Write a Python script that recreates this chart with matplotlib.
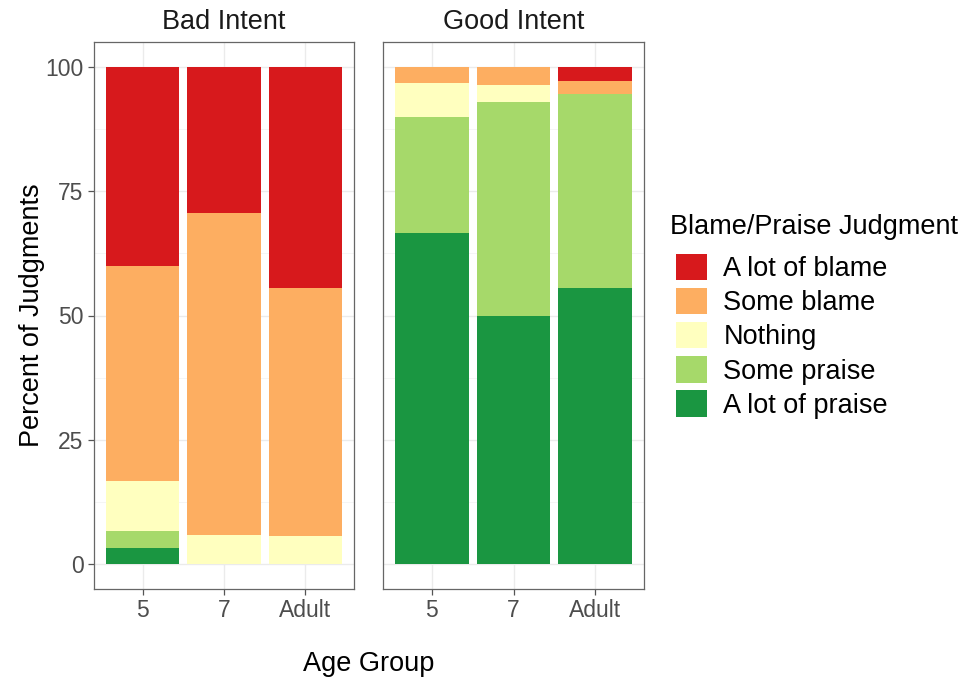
import numpy as np
import matplotlib.pyplot as plt
from matplotlib.patches import Patch

plt.rcParams['font.family'] = ['Liberation Sans', 'DejaVu Sans']

ages = ['5', '7', 'Adult']
panels = ['Bad Intent', 'Good Intent']
levels = ['A lot of blame', 'Some blame', 'Nothing', 'Some praise', 'A lot of praise']
colors = ['#D7191C', '#FDAE61', '#FFFFBF', '#A6D96A', '#1A9641']

# percent of judgments per level, per age group
bad_intent = {
    'A lot of blame': [40.0, 29.41, 44.44],
    'Some blame': [43.33, 64.71, 50.0],
    'Nothing': [10.0, 5.88, 5.56],
    'Some praise': [3.33, 0.0, 0.0],
    'A lot of praise': [3.33, 0.0, 0.0],
}
good_intent = {
    'A lot of blame': [0.0, 0.0, 2.78],
    'Some blame': [3.33, 3.57, 2.78],
    'Nothing': [6.67, 3.57, 0.0],
    'Some praise': [23.33, 42.86, 38.89],
    'A lot of praise': [66.67, 50.0, 55.56],
}

W, H = 967, 682
fig = plt.figure(figsize=(W / 100, H / 100), dpi=100)


def px_axes(x0, y0, x1, y1):
    return fig.add_axes([x0 / W, (H - y1) / H, (x1 - x0) / W, (y1 - y0) / H])


ax_bad = px_axes(94, 42, 354, 589)
ax_good = px_axes(383, 42, 644, 589)

grey_txt = '#4D4D4D'
for ax, title, data in [(ax_bad, panels[0], bad_intent), (ax_good, panels[1], good_intent)]:
    xs = np.arange(len(ages))
    bottom = np.zeros(len(ages))
    for lev, col in zip(reversed(levels), reversed(colors)):
        vals = np.array(data[lev])
        ax.bar(xs, vals, bottom=bottom, width=0.9, color=col, zorder=2, linewidth=0)
        bottom += vals
    ax.set_xlim(-0.6, 2.6)
    ax.set_ylim(-5, 105)
    ax.set_xticks(xs)
    ax.set_xticklabels(ages)
    ax.set_yticks([0, 25, 50, 75, 100])
    ax.set_yticks([12.5, 37.5, 62.5, 87.5], minor=True)
    ax.grid(which='major', color='#EBEBEB', lw=1.0, zorder=0)
    ax.grid(which='minor', axis='y', color='#F4F4F4', lw=0.6, zorder=0)
    ax.tick_params(axis='both', which='major', length=4.5, width=0.9, color='#555555',
                   labelsize=16.5, labelcolor=grey_txt, pad=3)
    ax.tick_params(axis='both', which='minor', length=0)
    for s in ax.spines.values():
        s.set_color('#666666')
        s.set_linewidth(0.9)
    ax.set_axisbelow(True)
    ax.text(0.5, 1.012, title, transform=ax.transAxes, ha='center', va='bottom',
            fontsize=19.5, color='#1A1A1A')

ax_good.tick_params(axis='y', which='both', left=False, labelleft=False)

fig.text(369 / W, 1 - 664 / H, 'Age Group', ha='center', va='center', fontsize=19.5, color='black')
fig.text(32 / W, 1 - 315 / H, 'Percent of Judgments', ha='center', va='center',
         rotation=90, fontsize=19.5, color='black')

# legend title drawn separately to control the gap to the keys
fig.text(670 / W, 1 - 227 / H, 'Blame/Praise Judgment', ha='left', va='center',
         fontsize=19.5, color='black')
handles = [Patch(facecolor=c, edgecolor='none') for c in colors]
leg = fig.legend(handles, levels, loc='upper left', bbox_to_anchor=(676 / W, 1 - 254 / H),
                 frameon=False, fontsize=19.5, handlelength=1.15, handleheight=1.12,
                 handletextpad=0.6, labelspacing=0.21, borderaxespad=0, borderpad=0)

fig.savefig('out.png', dpi=100)
